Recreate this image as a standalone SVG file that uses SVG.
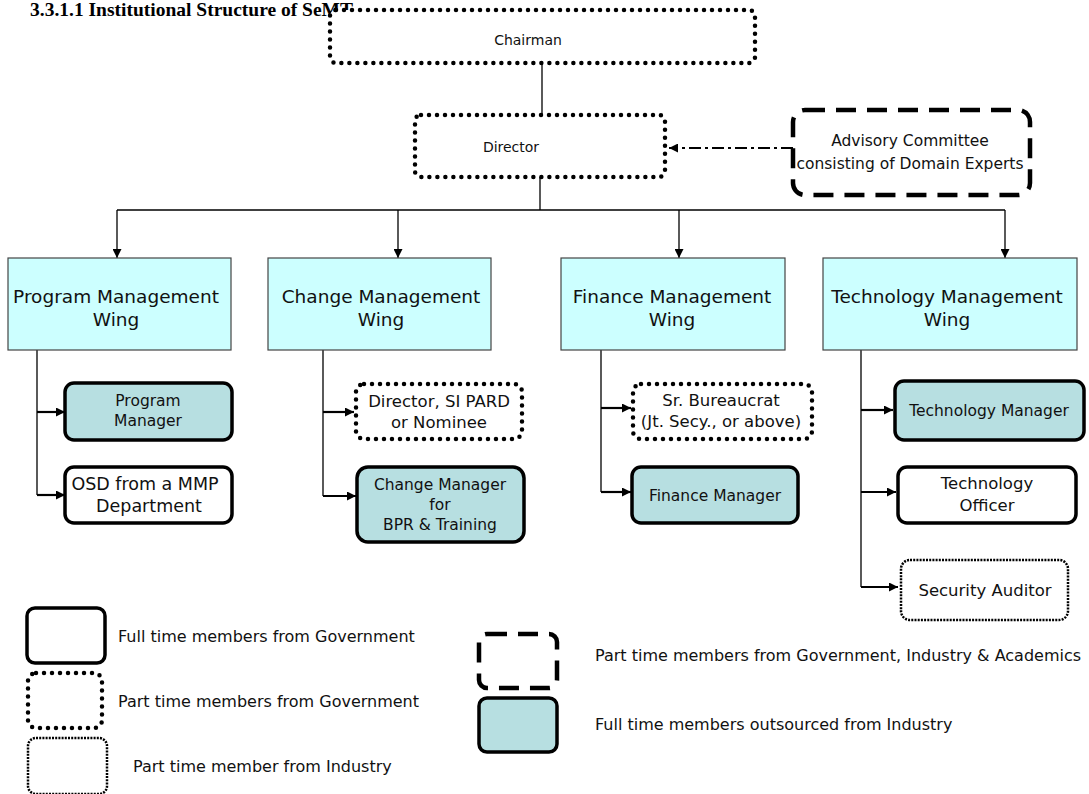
<svg xmlns="http://www.w3.org/2000/svg" width="1089" height="794" viewBox="0 0 1089 794">
  <style>
    .t { font-family: "DejaVu Sans", Verdana, sans-serif; fill: #111; }
    .ts { font-size: 16.5px; }
    .tm { font-size: 15.5px; }
    .tw { font-size: 18.5px; }
    .tl { font-size: 16px; }
    .wing { fill: #CCFFFF; stroke: #444; stroke-width: 1.2; }
    .full { fill: #fff; stroke: #000; stroke-width: 3.5; }
    .out { fill: #B7DFE1; stroke: #000; stroke-width: 3.5; }
    .ptgov { fill: #fff; stroke: #000; stroke-width: 4.5; stroke-dasharray: 0 8; stroke-linecap: round; }
    .ptind { fill: #fff; stroke: #000; stroke-width: 2.5; stroke-dasharray: 2 1.2; }
    .ptall { fill: #fff; stroke: #000; stroke-width: 4.5; stroke-dasharray: 20 11; }
    .ln { fill: none; stroke: #000; stroke-width: 1.3; }
    .lnb { fill: none; stroke: #000; stroke-width: 2.2; }
  </style>
  <defs>
    <marker id="ah" viewBox="0 0 10 10" refX="10" refY="5" markerWidth="10" markerHeight="9" markerUnits="userSpaceOnUse" orient="auto">
      <path d="M0,0 L10,5 L0,10 Z" fill="#000"/>
    </marker>
  </defs>

  <text x="30" y="16" font-family="Liberation Serif, serif" font-weight="bold" font-size="19.5" fill="#000">3.3.1.1 Institutional Structure of SeMT</text>

  <!-- reporting lines and arrows -->
  <g id="connectors">
    <line class="ln" x1="542" y1="63" x2="542" y2="115"/>
    <line x1="793" y1="148" x2="669" y2="148" stroke="#000" stroke-width="2" stroke-dasharray="12 4 3 4" marker-end="url(#ah)"/>
    <line class="ln" x1="540" y1="177" x2="540" y2="210"/>
    <polyline class="ln" points="117,210 1005,210"/>
    <line class="ln" x1="117" y1="210" x2="117" y2="258" marker-end="url(#ah)"/>
    <line class="ln" x1="398" y1="210" x2="398" y2="258" marker-end="url(#ah)"/>
    <line class="ln" x1="679" y1="210" x2="679" y2="258" marker-end="url(#ah)"/>
    <line class="ln" x1="1005" y1="210" x2="1005" y2="258" marker-end="url(#ah)"/>

    <line class="ln" x1="37" y1="350" x2="37" y2="495"/>
    <line class="lnb" x1="37" y1="412" x2="65" y2="412" marker-end="url(#ah)"/>
    <line class="lnb" x1="37" y1="495" x2="65" y2="495" marker-end="url(#ah)"/>

    <line class="ln" x1="323" y1="350" x2="323" y2="496"/>
    <line class="lnb" x1="323" y1="412" x2="354" y2="412" marker-end="url(#ah)"/>
    <line class="lnb" x1="323" y1="496" x2="356" y2="496" marker-end="url(#ah)"/>

    <line class="ln" x1="601" y1="350" x2="601" y2="492"/>
    <line class="lnb" x1="601" y1="408" x2="631" y2="408" marker-end="url(#ah)"/>
    <line class="lnb" x1="601" y1="492" x2="631" y2="492" marker-end="url(#ah)"/>

    <line class="ln" x1="861" y1="350" x2="861" y2="587"/>
    <line class="lnb" x1="861" y1="410" x2="893" y2="410" marker-end="url(#ah)"/>
    <line class="lnb" x1="861" y1="492" x2="896" y2="492" marker-end="url(#ah)"/>
    <line class="lnb" x1="861" y1="587" x2="898" y2="587" marker-end="url(#ah)"/>
  </g>

  <g id="chairman">
    <rect class="ptgov" x="330" y="10" width="425" height="53" rx="6"/>
    <text class="t" font-size="14" x="528" y="45" text-anchor="middle">Chairman</text>
  </g>
  <g id="director">
    <rect class="ptgov" x="415" y="115" width="250" height="62" rx="6"/>
    <text class="t" font-size="14" x="511" y="152" text-anchor="middle">Director</text>
  </g>
  <g id="advisory">
    <rect class="ptall" x="793" y="110" width="237" height="85" rx="12"/>
    <text class="t tm" x="910" y="146" text-anchor="middle">Advisory Committee</text>
    <text class="t tm" x="910" y="169" text-anchor="middle">consisting of Domain Experts</text>
  </g>

  <g id="wing-program">
    <rect class="wing" x="8" y="258" width="223" height="92"/>
    <text class="t tw" x="116" y="303" text-anchor="middle">Program Management</text>
    <text class="t tw" x="116" y="326" text-anchor="middle">Wing</text>
  </g>
  <g id="wing-change">
    <rect class="wing" x="268" y="258" width="223" height="92"/>
    <text class="t tw" x="381" y="303" text-anchor="middle">Change Management</text>
    <text class="t tw" x="381" y="326" text-anchor="middle">Wing</text>
  </g>
  <g id="wing-finance">
    <rect class="wing" x="561" y="258" width="224" height="92"/>
    <text class="t tw" x="672" y="303" text-anchor="middle">Finance Management</text>
    <text class="t tw" x="672" y="326" text-anchor="middle">Wing</text>
  </g>
  <g id="wing-technology">
    <rect class="wing" x="823" y="258" width="254" height="92"/>
    <text class="t tw" x="947" y="303" text-anchor="middle">Technology Management</text>
    <text class="t tw" x="947" y="326" text-anchor="middle">Wing</text>
  </g>

  <g id="program-manager">
    <rect class="out" x="65" y="383" width="167" height="57" rx="9"/>
    <text class="t tm" x="148" y="406" text-anchor="middle">Program</text>
    <text class="t tm" x="148" y="426" text-anchor="middle">Manager</text>
  </g>
  <g id="osd">
    <rect class="full" x="65" y="467" width="167" height="56" rx="9"/>
    <text class="t" font-size="17.5" x="145" y="490" text-anchor="middle">OSD from a MMP</text>
    <text class="t" font-size="17.5" x="149" y="512" text-anchor="middle">Department</text>
  </g>
  <g id="director-sipard">
    <rect class="ptgov" x="356" y="384" width="166" height="55" rx="8"/>
    <text class="t ts" x="439" y="407" text-anchor="middle">Director, SI PARD</text>
    <text class="t ts" x="439" y="428" text-anchor="middle">or  Nominee</text>
  </g>
  <g id="change-manager">
    <rect class="out" x="357" y="467" width="167" height="75" rx="11"/>
    <text class="t tm" x="440" y="490" text-anchor="middle">Change Manager</text>
    <text class="t tm" x="440" y="510" text-anchor="middle">for</text>
    <text class="t tm" x="440" y="530" text-anchor="middle">BPR &amp; Training</text>
  </g>
  <g id="sr-bureaucrat">
    <rect class="ptgov" x="633" y="384" width="179" height="55" rx="8"/>
    <text class="t ts" x="721" y="406" text-anchor="middle">Sr. Bureaucrat</text>
    <text class="t ts" x="721" y="427" text-anchor="middle">(Jt. Secy., or above)</text>
  </g>
  <g id="finance-manager">
    <rect class="out" x="632" y="467" width="166" height="56" rx="9"/>
    <text class="t tm" x="715" y="501" text-anchor="middle">Finance Manager</text>
  </g>
  <g id="technology-manager">
    <rect class="out" x="895" y="381" width="189" height="59" rx="9"/>
    <text class="t tm" x="989" y="416" text-anchor="middle">Technology Manager</text>
  </g>
  <g id="technology-officer">
    <rect class="full" x="898" y="467" width="178" height="56" rx="9"/>
    <text class="t ts" x="987" y="489" text-anchor="middle">Technology</text>
    <text class="t ts" x="987" y="511" text-anchor="middle">Officer</text>
  </g>
  <g id="security-auditor">
    <rect class="ptind" x="901" y="560" width="167" height="60" rx="9"/>
    <text class="t ts" x="985" y="596" text-anchor="middle">Security Auditor</text>
  </g>

  <g id="legend">
    <rect class="full" x="27" y="608" width="78" height="55" rx="8"/>
    <text class="t tl" x="118" y="642">Full time members from Government</text>
    <rect class="ptgov" x="28" y="673" width="74" height="55" rx="8"/>
    <text class="t tl" x="118" y="707">Part time members from Government</text>
    <rect class="ptind" x="28" y="738" width="79" height="56" rx="8"/>
    <text class="t tl" x="133" y="772">Part time member from Industry</text>
    <rect class="ptall" x="479" y="634" width="78" height="54" rx="8"/>
    <text class="t tl" x="595" y="661">Part time members from Government, Industry &amp; Academics</text>
    <rect class="out" x="479" y="698" width="78" height="54" rx="8"/>
    <text class="t tl" x="595" y="730">Full time members outsourced from Industry</text>
  </g>
</svg>
